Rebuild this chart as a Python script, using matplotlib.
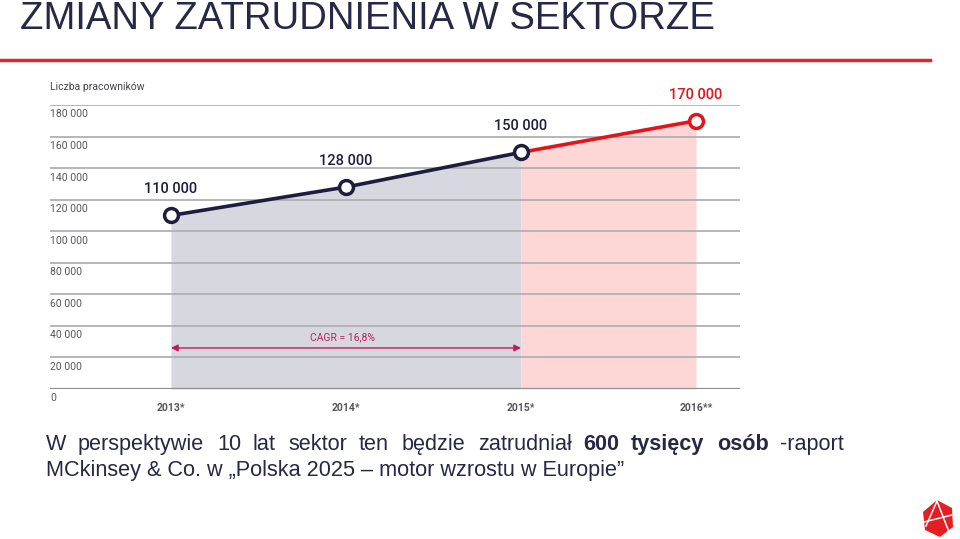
import matplotlib.pyplot as plt
from matplotlib.patches import Polygon

years = ['2013*', '2014*', '2015*', '2016**']
employees = [110000, 128000, 150000, 170000]
value_labels = ['110 000', '128 000', '150 000', '170 000']
y_ticks = [0, 20000, 40000, 60000, 80000, 100000, 120000, 140000, 160000, 180000]
y_tick_labels = ['0', '20 000', '40 000', '60 000', '80 000', '100 000',
                 '120 000', '140 000', '160 000', '180 000']
cagr_text = 'CAGR = 16,8%'
cagr_level = 26000

navy = '#1f1d3d'
red = '#e3141c'

W, H = 960, 539
fig = plt.figure(figsize=(W / 100, H / 100), dpi=100)

# title + red rule
fig.text(20 / W, 1 - 19 / H, 'ZMIANY ZATRUDNIENIA W SEKTORZE', fontsize=27.5, color='#262845',
         family='Liberation Sans', va='center', ha='left')
fig.add_artist(plt.Line2D([0, 930 / W], [1 - 60 / H, 1 - 60 / H], color='#d62a2e', lw=2.5))

# chart axes
ax = fig.add_axes([50 / W, 1 - 389 / H, 690 / W, 284 / H])
ax.set_xlim(-0.691, 3.251)
ax.set_ylim(0, 180000)
for s in ax.spines.values():
    s.set_visible(False)
ax.set_xticks([])
ax.set_yticks([])
for t, lab in zip(y_ticks, y_tick_labels):
    ax.axhline(t, color='#b0b0b4' if t else '#8d8d92', lw=1.3 if t else 1.6, zorder=1)
    ax.text(-0.691, t - 2800, lab, fontsize=7.5, color='#55555c',
            family='Roboto', va='top', ha='left', clip_on=False)
ax.text(-0.691, 191500, 'Liczba pracowników', fontsize=7.5, color='#444449',
        family='Roboto', va='center', ha='left', clip_on=False)

x = list(range(len(years)))
ax.fill_between(x[:3], employees[:3], 0, color='#d7d7df', lw=0, zorder=0)
ax.fill_between(x[2:], employees[2:], 0, color='#fdd6d6', lw=0, zorder=0)
ax.plot(x[:3], employees[:3], color=navy, lw=2.6, zorder=3)
ax.plot(x[2:], employees[2:], color=red, lw=2.6, zorder=3)
for i in x:
    ec = red if i == 3 else navy
    ax.plot(i, employees[i], 'o', ms=10, mfc='white', mec=ec, mew=2.5, zorder=4)
    ax.text(i, employees[i] + 16500, value_labels[i], fontsize=10.5,
            color=red if i == 3 else navy, family='Roboto', fontweight='medium',
            ha='center', va='center')
    ax.text(i, -12000, years[i], fontsize=7.5, color='#55555c', family='Roboto',
            fontweight='bold', ha='center', va='center', clip_on=False)

ax.annotate('', xy=(0, cagr_level), xytext=(2, cagr_level),
            arrowprops=dict(arrowstyle='<|-|>', color='#c2185b', lw=1.0,
                            mutation_scale=10, shrinkA=0, shrinkB=0))
ax.text(0.98, cagr_level + 6800, cagr_text, fontsize=7.5, color='#b8245f',
        family='Roboto', ha='center', va='center')

# footer text, justified words
words1 = [('W', 46, 'normal'), ('perspektywie', 78, 'normal'), ('10', 217, 'normal'),
          ('lat', 252, 'normal'), ('sektor', 288, 'normal'), ('ten', 359, 'normal'),
          ('będzie', 402, 'normal'), ('zatrudniał', 478, 'normal'), ('600', 583, 'bold'),
          ('tysięcy', 631, 'bold'), ('osób', 717, 'bold'), ('-raport', 780, 'normal')]
for w, px, fw in words1:
    fig.text(px / W, 1 - 450 / H, w, fontsize=15.6, color='#262845', family='Liberation Sans',
             fontweight=fw, va='baseline', ha='left')
fig.text(46 / W, 1 - 476 / H, 'MCkinsey & Co. w „Polska 2025 – motor wzrostu w Europie”',
         fontsize=15.6, color='#262845', family='Liberation Sans', va='baseline', ha='left')

# logo
hexpts = [(937, 500), (952, 508), (953, 527), (940, 537), (925, 530), (923, 512)]
fig.add_artist(Polygon([(px / W, 1 - py / H) for px, py in hexpts], closed=True,
                       facecolor='#e31e24', edgecolor='none', transform=fig.transFigure))
for a, b in [((937, 501), (926, 526)), ((937, 501), (949, 532)), ((924, 522), (952, 515))]:
    fig.add_artist(plt.Line2D([a[0] / W, b[0] / W], [1 - a[1] / H, 1 - b[1] / H],
                              color='white', lw=1.1))

plt.savefig('out.png', dpi=100)
